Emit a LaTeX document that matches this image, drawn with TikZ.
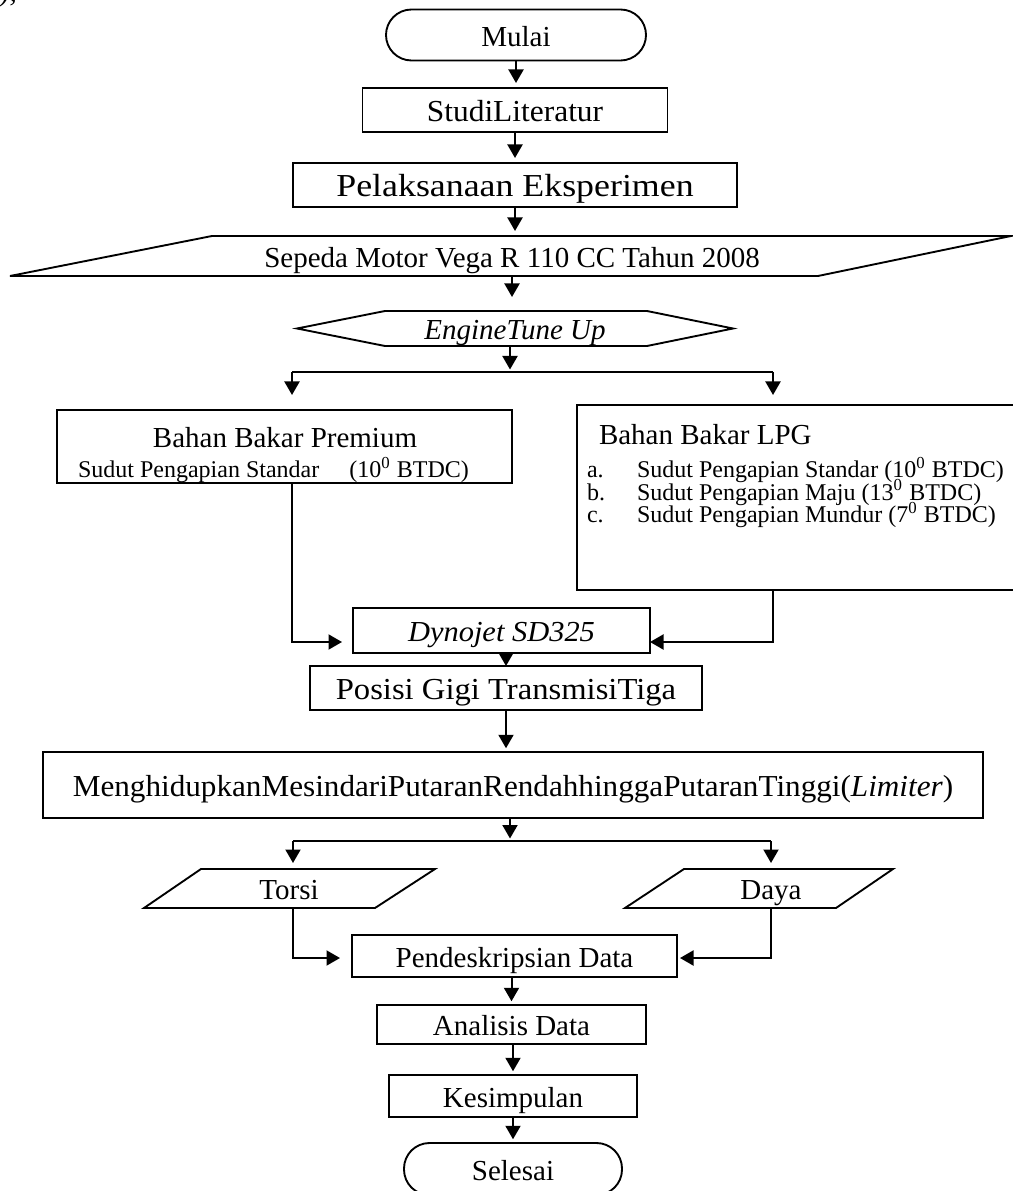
\documentclass[tikz,border=0pt]{standalone}
\usepackage{fontspec}
\usepackage{graphicx}
\setmainfont{Liberation Serif}
\usetikzlibrary{arrows.meta,calc}
\begin{document}
\begin{tikzpicture}[x=0.4pt,y=-0.4pt,
  every node/.style={inner sep=0pt,outer sep=0pt,font=\fontsize{11.6}{13.9}\selectfont},
  tc/.style={text height=9.9pt,text depth=1pt},
  proc/.style={draw,line width=0.75pt,tc},
  term/.style={draw,line width=0.75pt,rounded corners=10.2pt,tc},
  small/.style={font=\fontsize{9.6}{11.5}\selectfont},
  shp/.style={draw,line width=0.75pt,line join=miter},
  ln/.style={line width=0.8pt},
  arr/.style={line width=0.8pt,-{Triangle[length=5.4pt,width=6pt]}}]
\useasboundingbox (0,0) rectangle (1012,1191);
\node[anchor=base west] (frag) at (0,2) {\textit{),}};
% top chain
\node[term,minimum width=104pt,minimum height=20.4pt] (mulai) at (516,35) {Mulai};
\node[proc,minimum width=122pt,minimum height=17.6pt,font=\fontsize{12.2}{14}\selectfont] (studi) at (515,110) {\scalebox{1.03}[1]{StudiLiteratur}};
\node[proc,minimum width=177.6pt,minimum height=17.6pt,font=\fontsize{12.8}{15}\selectfont] (pelak) at (515,185) {\scalebox{1.12}[1]{Pelaksanaan Eksperimen}};
\node[tc,minimum width=240pt,minimum height=16pt] (sepeda) at (512,256) {Sepeda Motor Vega R 110 CC Tahun 2008};
\draw[shp] (212,236) -- (1011,236) -- (818,276) -- (10,276) -- cycle;
\node[tc,minimum width=174.4pt,minimum height=14pt] (eng) at (515,328.5) {\textit{EngineTune Up}};
\draw[shp] (297,328.5) -- (385,311) -- (647,311) -- (733,328.5) -- (647,346) -- (385,346) -- cycle;
\draw[arr,shorten >=2pt] (mulai.south) -- (mulai.south |- studi.north);
\draw[arr,shorten >=2pt] (studi.south) -- (studi.south |- pelak.north);
\draw[arr,shorten >=2pt] (pelak.south) -- (pelak.south |- sepeda.north);
\draw[arr,shorten >=5.6pt] (sepeda.south) -- (sepeda.south |- eng.north);
% split 1
\coordinate (s1L) at (292,372);
\coordinate (s1R) at (773,372);
\draw[arr,shorten >=1pt] ([xshift=-2pt]eng.south) -- ([xshift=-2pt]eng.south |- s1L);
\draw[ln] (s1L) -- (s1R);
% fuel boxes
\node[proc,minimum width=182pt,minimum height=29.2pt] (prem) at (284.5,446.5) {};
\node (premT) at (285,438) {Bahan Bakar Premium};
\node[small,anchor=west] (premS) at (78,470) {Sudut Pengapian Standar\hspace{12pt}(10\textsuperscript{0} BTDC)};
\node[proc,minimum width=175.2pt,minimum height=74pt] (lpg) at (796,497.5) {};
\node[anchor=west] (lpgT) at (599,435) {Bahan Bakar LPG};
\node[small,anchor=west] (lpgA) at (587,470) {\makebox[20pt][l]{a.}Sudut Pengapian Standar (10\textsuperscript{0} BTDC)};
\node[small,anchor=west] (lpgB) at (587,492.5) {\makebox[20pt][l]{b.}Sudut Pengapian Maju (13\textsuperscript{0} BTDC)};
\node[small,anchor=west] (lpgC) at (587,515) {\makebox[20pt][l]{c.}Sudut Pengapian Mundur (7\textsuperscript{0} BTDC)};
\draw[arr,shorten >=6pt] (s1L) -- (s1L |- prem.north);
\draw[arr,shorten >=4pt] (s1R) -- (s1R |- lpg.north);
% dynojet
\node[proc,minimum width=118.8pt,minimum height=18pt] (dyno) at (501.5,630.5) {\scalebox{1.05}[1]{\textit{Dynojet SD325}}};
\draw[arr,shorten >=4.4pt] ([xshift=3pt]prem.south) |- ([yshift=-4.6pt]dyno.west);
\draw[arr] ([xshift=-9.2pt]lpg.south) |- ([yshift=-4.6pt]dyno.east);
\node[proc,minimum width=156.8pt,minimum height=17.6pt,font=\fontsize{12.2}{14}\selectfont] (posisi) at (506,688) {\scalebox{1.07}[1]{Posisi Gigi TransmisiTiga}};
\draw[arr] (posisi.north |- dyno.south) -- (posisi.north);
\node[proc,minimum width=376pt,minimum height=26.4pt] (mesin) at (513,785) {\scalebox{1.075}[1.05]{MenghidupkanMesindariPutaranRendahhinggaPutaranTinggi(\textit{Limiter})}};
\draw[arr,shorten >=1.5pt] (posisi.south) -- (posisi.south |- mesin.north);
% split 2
\coordinate (s2) at (510,841);
\coordinate (s2L) at (293,841);
\coordinate (s2R) at (771,841);
\draw[arr,shorten >=1pt] (mesin.south -| s2) -- (s2);
\draw[ln] (s2L) -- (s2R);
\node[tc,minimum width=60pt,minimum height=15.6pt] (torsi) at (289,888.5) {Torsi};
\draw[shp] (201,869) -- (435,869) -- (375,908) -- (144,908) -- cycle;
\node[tc,minimum width=40pt,minimum height=15.6pt] (daya) at (771,888.5) {Daya};
\draw[shp] (684,869) -- (893,869) -- (836,908) -- (625,908) -- cycle;
\draw[arr,shorten >=2.4pt] (s2L) -- (s2L |- torsi.north);
\draw[arr,shorten >=2.4pt] (s2R) -- (s2R |- daya.north);
% bottom chain
\node[proc,minimum width=130pt,minimum height=16.8pt] (pendes) at (514.5,956) {Pendeskripsian Data};
\draw[arr,shorten >=4.8pt] (s2L |- torsi.south) |- ([yshift=-0.8pt]pendes.west);
\draw[arr,shorten >=1.2pt] (s2R |- daya.south) |- ([yshift=-0.8pt]pendes.east);
\node[proc,minimum width=107.6pt,minimum height=15.6pt] (anal) at (511.5,1024.5) {Analisis Data};
\node[proc,minimum width=99.2pt,minimum height=16.8pt] (kes) at (513,1096) {Kesimpulan};
\node[term,minimum width=87.2pt,minimum height=20.8pt] (sel) at (513,1169) {Selesai};
\draw[arr,shorten >=1.5pt] (anal.north |- pendes.south) -- (anal.north);
\draw[arr,shorten >=1.5pt] (kes.north |- anal.south) -- (kes.north);
\draw[arr,shorten >=1.5pt] (kes.south) -- (kes.south |- sel.north);
\end{tikzpicture}
\end{document}
